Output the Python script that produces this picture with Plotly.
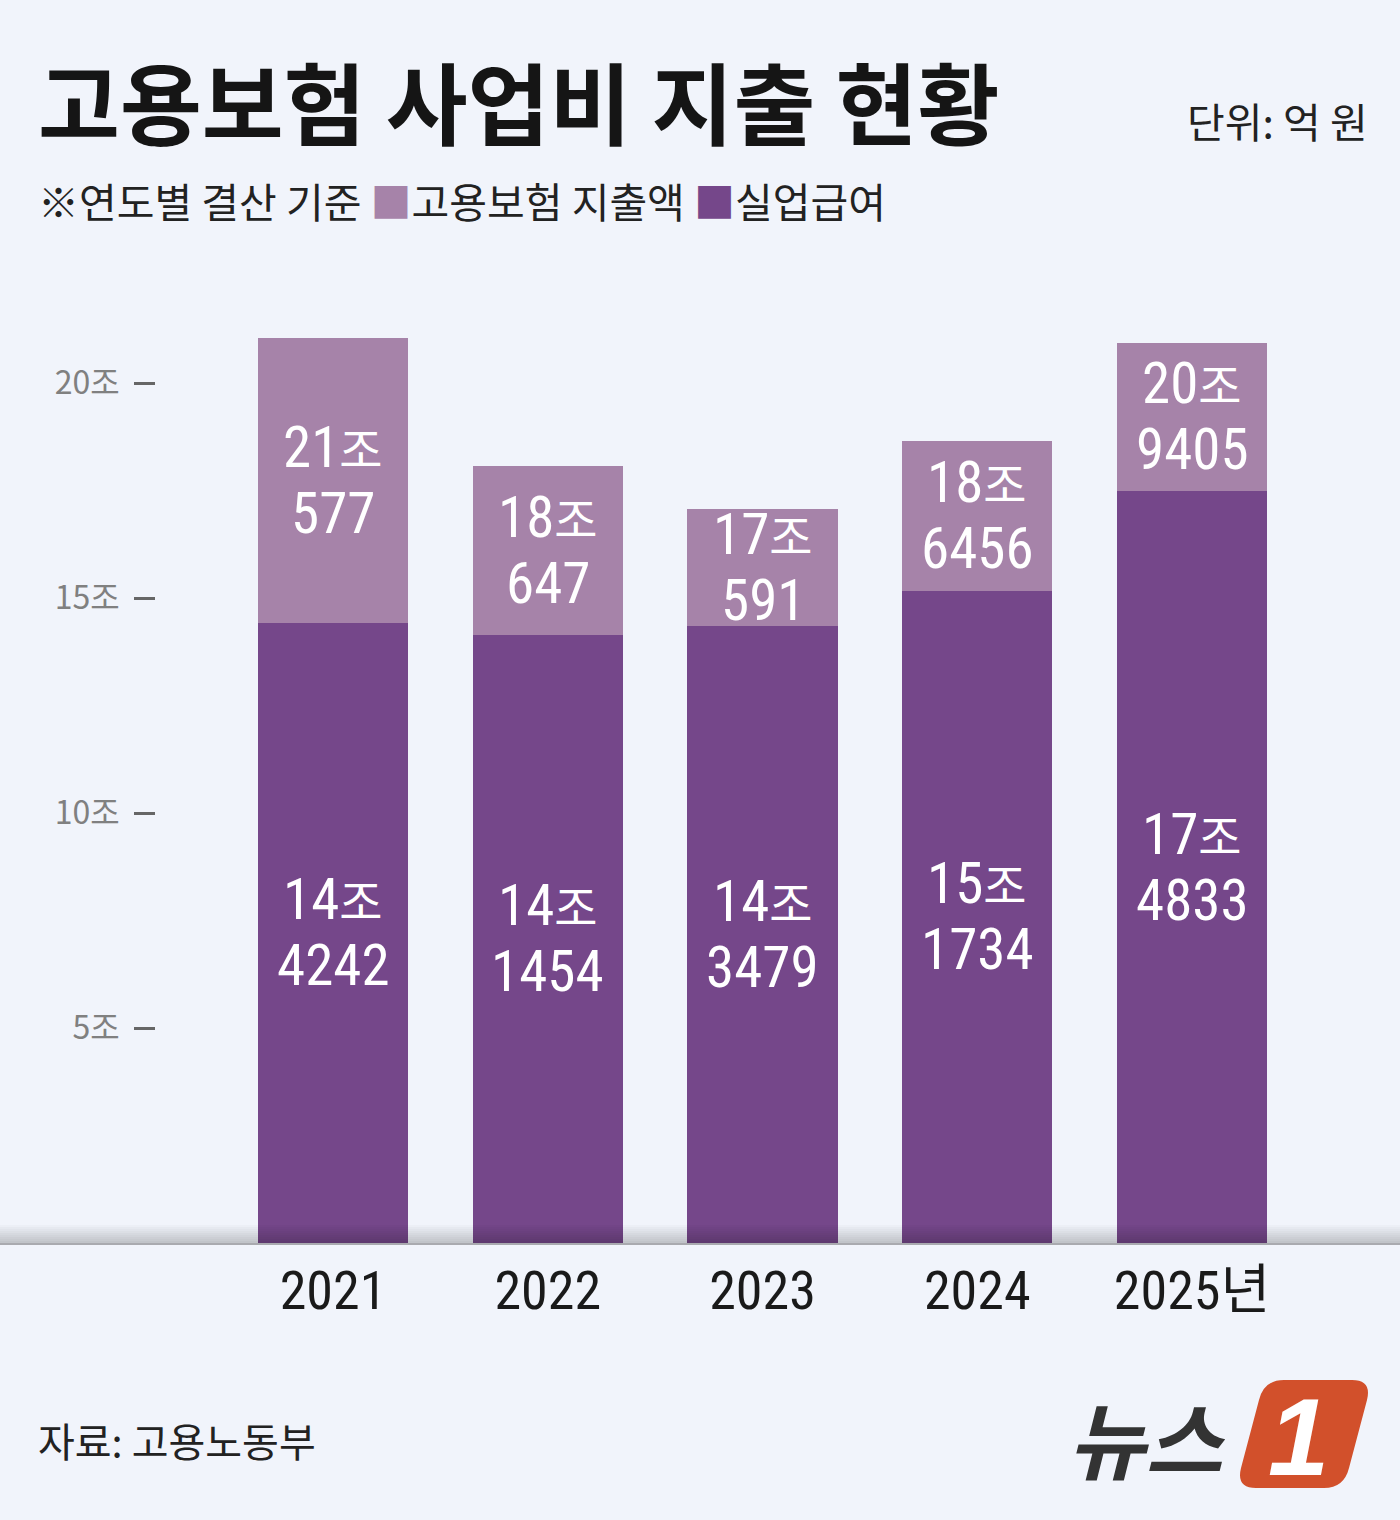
import plotly.graph_objects as go

# ---- data (억 원) ----
years = ["2021", "2022", "2023", "2024", "2025년"]
total_eok = [210577, 180647, 170591, 186456, 209405]      # 고용보험 지출액
unemp_eok = [144242, 141454, 143479, 151734, 174833]      # 실업급여
ytick_vals = [5, 10, 15, 20]
ytick_text = ["5조", "10조", "15조", "20조"]

W, H = 1400, 1520
BG = "#F1F4FB"
LIGHT = "#A683A9"
DARK = "#75478A"
KFONT = "Noto Sans CJK KR"
NFONT = "Roboto Condensed, Liberation Sans Narrow, Noto Sans CJK KR"

total = [v / 10000 for v in total_eok]
unemp = [v / 10000 for v in unemp_eok]
rest = [t - u for t, u in zip(total, unemp)]
xs = list(range(len(years)))

def px(x):
    return x / W

def py(y):
    return (H - y) / H

fig = go.Figure()
fig.add_trace(go.Bar(x=xs, y=unemp, marker=dict(color=DARK, line=dict(width=0)),
                     width=0.7, hoverinfo="skip", name="실업급여"))
fig.add_trace(go.Bar(x=xs, y=rest, base=unemp, marker=dict(color=LIGHT, line=dict(width=0)),
                     width=0.7, hoverinfo="skip", name="고용보험 지출액"))

ann = []
LBL = dict(family=NFONT, size=57, color="white")

def add_label(i, mid, v):
    ann.append(dict(x=i, y=mid, yshift=33, showarrow=False, font=LBL,
                    text=f"{v // 10000}<span style='font-size:47px'>조</span>"))
    ann.append(dict(x=i, y=mid, yshift=-33, showarrow=False, font=LBL,
                    text=f"{v % 10000}"))

for i in xs:
    add_label(i, (unemp[i] + total[i]) / 2, total_eok[i])
    add_label(i, unemp[i] / 2, unemp_eok[i])

# titles and texts
ann.append(dict(xref="paper", yref="paper", x=px(36), y=py(100), xanchor="left", yanchor="middle",
                text="<b>고용보험 사업비 지출 현황</b>", showarrow=False,
                font=dict(family=KFONT, size=89, color="#151515")))
ann.append(dict(xref="paper", yref="paper", x=px(1370), y=py(120), xanchor="right", yanchor="middle",
                text="단위: 억 원", showarrow=False,
                font=dict(family=KFONT, size=41, color="#222222")))
ann.append(dict(xref="paper", yref="paper", x=px(36), y=py(200), xanchor="left", yanchor="middle",
                text=("※연도별 결산 기준 "
                      f"<span style='color:{LIGHT}'>■</span>고용보험 지출액 "
                      f"<span style='color:{DARK}'>■</span>실업급여"),
                showarrow=False, font=dict(family=KFONT, size=41, color="#222222")))
ann.append(dict(xref="paper", yref="paper", x=px(36), y=py(1440), xanchor="left", yanchor="middle",
                text="자료: 고용노동부", showarrow=False,
                font=dict(family=KFONT, size=40, color="#222222")))
# logo text
ann.append(dict(xref="paper", yref="paper", x=px(1146), y=py(1436), xanchor="center", yanchor="middle",
                text="<b><i>뉴스</i></b>", showarrow=False,
                font=dict(family=KFONT, size=84, color="#333333")))

shapes = []
path = (f"M {px(1272)},{py(1380)} L {px(1352)},{py(1380)} "
        f"Q {px(1372)},{py(1380)} {px(1367)},{py(1400)} "
        f"L {px(1349)},{py(1468)} Q {px(1344)},{py(1488)} {px(1324)},{py(1488)} "
        f"L {px(1256)},{py(1488)} Q {px(1236)},{py(1488)} {px(1241)},{py(1468)} "
        f"L {px(1259)},{py(1400)} Q {px(1264)},{py(1380)} {px(1284)},{py(1380)} Z")
shapes.append(dict(type="path", xref="paper", yref="paper", path=path,
                   fillcolor="#D2502B", line=dict(width=0), layer="above"))
ann.append(dict(xref="paper", yref="paper", x=px(1298), y=py(1436), xanchor="center", yanchor="middle",
                text="<b><i>1</i></b>", showarrow=False,
                font=dict(family="Liberation Sans, Arial", size=110, color="white")))

# baseline shadow (over bars and background)
n = 9
for k in range(n):
    y0 = 1225 + k * 2
    shapes.append(dict(type="rect", xref="paper", yref="paper", x0=0, x1=1,
                       y0=py(y0 + 2), y1=py(y0), fillcolor="black",
                       opacity=0.02 + 0.022 * k, line=dict(width=0), layer="above"))
shapes.append(dict(type="line", xref="paper", yref="paper", x0=0, x1=1,
                   y0=py(1244), y1=py(1244), line=dict(color="#A9AAAF", width=2), layer="above"))

# axis geometry: y=0 at pixel 1243, 43 px per 조; first bar centre at 333, 214.75 px per category
ppu = 43.0
ymin = -(H - 1243) / ppu
ymax = 1243 / ppu
ppx = 214.75
xmin = -333 / ppx
xmax = (len(years) - 1) + (W - 1192) / ppx

fig.update_layout(
    width=W, height=H, paper_bgcolor=BG, plot_bgcolor=BG,
    margin=dict(l=0, r=0, t=0, b=0),
    barmode="stack", bargap=0, showlegend=False,
    annotations=ann, shapes=shapes,
    xaxis=dict(range=[xmin, xmax], anchor="free", position=py(1243), side="bottom",
               tickvals=xs, ticktext=years, ticks="", showgrid=False, zeroline=False,
               showline=False, ticklabelstandoff=11, automargin=False, fixedrange=True,
               tickfont=dict(family=NFONT, size=54, color="#1a1a1a")),
    yaxis=dict(range=[ymin, ymax], anchor="free", position=px(155), side="left",
               tickvals=ytick_vals, ticktext=ytick_text, ticks="outside", ticklen=21,
               tickwidth=3, tickcolor="#666666", showgrid=False, zeroline=False,
               showline=False, ticklabelstandoff=8, automargin=False, fixedrange=True,
               tickfont=dict(family=KFONT, size=32, color="#808080")),
)

fig.write_html("out.html")
